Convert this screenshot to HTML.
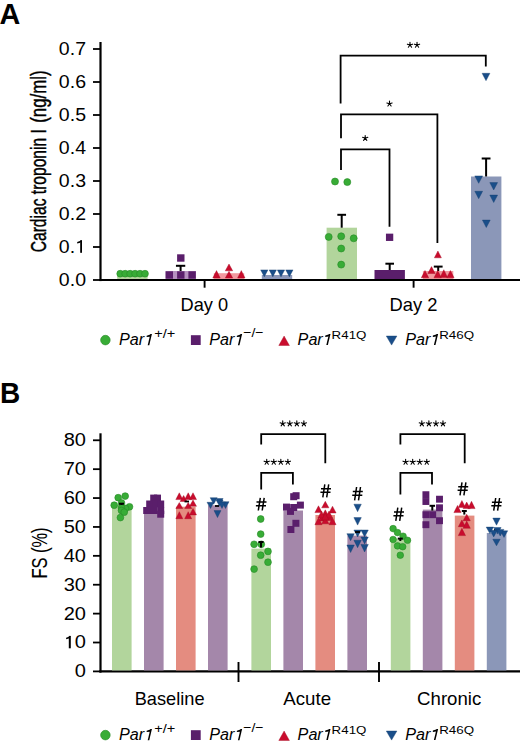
<!DOCTYPE html>
<html><head><meta charset="utf-8"><style>
html,body{margin:0;padding:0;background:#fff;}
svg{display:block;}
text{font-family:"Liberation Sans",sans-serif;}
</style></head><body>
<svg width="520" height="745" viewBox="0 0 520 745">
<rect width="520" height="745" fill="#fff"/>
<text x="-0.52" y="23.50" font-size="29.3" textLength="20.80" lengthAdjust="spacingAndGlyphs" font-weight="bold">A</text>
<line x1="100.5" y1="42" x2="100.5" y2="281.1" stroke="#000" stroke-width="2.2"/>
<line x1="93" y1="280.0" x2="100.5" y2="280.0" stroke="#000" stroke-width="1.8"/>
<text transform="translate(86.0,285.80) scale(1.085,1)" text-anchor="end" font-size="18">0.0</text>
<line x1="93" y1="247.0" x2="100.5" y2="247.0" stroke="#000" stroke-width="1.8"/>
<text transform="translate(58.85,252.80) scale(1.085,1)" font-size="18">0.</text>
<rect x="80.20" y="240.20" width="1.80" height="12.60" fill="#000"/>
<polygon points="82.00,240.20 77.20,242.10 77.20,243.60 80.20,242.80" fill="#000"/>
<line x1="93" y1="214.0" x2="100.5" y2="214.0" stroke="#000" stroke-width="1.8"/>
<text transform="translate(86.0,219.80) scale(1.085,1)" text-anchor="end" font-size="18">0.2</text>
<line x1="93" y1="181.0" x2="100.5" y2="181.0" stroke="#000" stroke-width="1.8"/>
<text transform="translate(86.0,186.80) scale(1.085,1)" text-anchor="end" font-size="18">0.3</text>
<line x1="93" y1="148.0" x2="100.5" y2="148.0" stroke="#000" stroke-width="1.8"/>
<text transform="translate(86.0,153.80) scale(1.085,1)" text-anchor="end" font-size="18">0.4</text>
<line x1="93" y1="115.0" x2="100.5" y2="115.0" stroke="#000" stroke-width="1.8"/>
<text transform="translate(86.0,120.80) scale(1.085,1)" text-anchor="end" font-size="18">0.5</text>
<line x1="93" y1="82.0" x2="100.5" y2="82.0" stroke="#000" stroke-width="1.8"/>
<text transform="translate(86.0,87.80) scale(1.085,1)" text-anchor="end" font-size="18">0.6</text>
<line x1="93" y1="49.0" x2="100.5" y2="49.0" stroke="#000" stroke-width="1.8"/>
<text transform="translate(86.0,54.80) scale(1.085,1)" text-anchor="end" font-size="18">0.7</text>
<line x1="99.4" y1="280" x2="520" y2="280" stroke="#000" stroke-width="2.2"/>
<line x1="204.6" y1="280" x2="204.6" y2="287.7" stroke="#000" stroke-width="1.9"/>
<line x1="413.6" y1="280" x2="413.6" y2="287.7" stroke="#000" stroke-width="1.9"/>
<text x="180.54" y="310.60" font-size="17.8" textLength="47.64" lengthAdjust="spacingAndGlyphs">Day 0</text>
<text x="389.53" y="310.60" font-size="17.8" textLength="47.93" lengthAdjust="spacingAndGlyphs">Day 2</text>
<text transform="translate(46.40,252.28) rotate(-90)" x="0" y="0" font-size="22" textLength="123.14" lengthAdjust="spacingAndGlyphs" stroke="#000" stroke-width="0.45">Cardiac troponin I</text>
<text transform="translate(46.40,122.81) rotate(-90)" x="0" y="0" font-size="22" textLength="52.45" lengthAdjust="spacingAndGlyphs" stroke="#000" stroke-width="0.45">(ng/ml)</text>
<rect x="117.20" y="273.50" width="30.40" height="5.50" fill="#b2d59c"/>
<rect x="165.60" y="271.00" width="30.40" height="8.00" fill="#b690c0"/>
<rect x="213.80" y="273.20" width="30.40" height="5.80" fill="#f2999f"/>
<rect x="261.80" y="275.00" width="30.40" height="4.00" fill="#8b97b8"/>
<circle cx="120.20" cy="273.70" r="3.40" fill="#38ac36" stroke="#268a26" stroke-width="0.6"/>
<circle cx="125.16" cy="273.70" r="3.40" fill="#38ac36" stroke="#268a26" stroke-width="0.6"/>
<circle cx="130.12" cy="273.70" r="3.40" fill="#38ac36" stroke="#268a26" stroke-width="0.6"/>
<circle cx="135.08" cy="273.70" r="3.40" fill="#38ac36" stroke="#268a26" stroke-width="0.6"/>
<circle cx="140.04" cy="273.70" r="3.40" fill="#38ac36" stroke="#268a26" stroke-width="0.6"/>
<circle cx="145.00" cy="273.70" r="3.40" fill="#38ac36" stroke="#268a26" stroke-width="0.6"/>
<line x1="180.6" y1="271" x2="180.6" y2="265.8" stroke="#000" stroke-width="2"/>
<line x1="175.95" y1="265.8" x2="185.25" y2="265.8" stroke="#000" stroke-width="2"/>
<rect x="165.60" y="271.30" width="7.40" height="7.40" fill="#5a1e6b"/>
<rect x="177.10" y="271.30" width="7.40" height="7.40" fill="#5a1e6b"/>
<rect x="188.40" y="271.30" width="7.40" height="7.40" fill="#5a1e6b"/>
<rect x="177.10" y="254.30" width="7.40" height="7.40" fill="#5a1e6b"/>
<polygon points="216.50,270.60 212.80,278.00 220.20,278.00" fill="#c90c2d" stroke="#a30a22" stroke-width="0.4" stroke-linejoin="miter"/>
<polygon points="229.00,264.00 225.30,270.80 232.70,270.80" fill="#c90c2d" stroke="#a30a22" stroke-width="0.4" stroke-linejoin="miter"/>
<polygon points="229.00,271.30 225.30,278.00 232.70,278.00" fill="#c90c2d" stroke="#a30a22" stroke-width="0.4" stroke-linejoin="miter"/>
<polygon points="241.30,270.60 237.60,278.00 245.00,278.00" fill="#c90c2d" stroke="#a30a22" stroke-width="0.4" stroke-linejoin="miter"/>
<polygon points="260.70,269.90 267.90,269.90 264.30,276.80" fill="#1a4e89" stroke="#123d6c" stroke-width="0.4"/>
<polygon points="269.20,269.90 276.40,269.90 272.80,276.80" fill="#1a4e89" stroke="#123d6c" stroke-width="0.4"/>
<polygon points="277.40,269.90 284.60,269.90 281.00,276.80" fill="#1a4e89" stroke="#123d6c" stroke-width="0.4"/>
<polygon points="285.80,269.90 293.00,269.90 289.40,276.80" fill="#1a4e89" stroke="#123d6c" stroke-width="0.4"/>
<rect x="326.60" y="227.70" width="30.40" height="51.30" fill="#b2d59c"/>
<line x1="341.7" y1="227.7" x2="341.7" y2="214.8" stroke="#000" stroke-width="2"/>
<line x1="337.34999999999997" y1="214.8" x2="346.05" y2="214.8" stroke="#000" stroke-width="2"/>
<rect x="374.50" y="270.00" width="30.40" height="9.00" fill="#5a1e6b"/>
<line x1="389.7" y1="270" x2="389.7" y2="263.7" stroke="#000" stroke-width="2"/>
<line x1="385.4" y1="263.7" x2="394.0" y2="263.7" stroke="#000" stroke-width="2"/>
<rect x="422.90" y="271.00" width="30.40" height="8.00" fill="#f2999f"/>
<line x1="438.2" y1="271" x2="438.2" y2="266.6" stroke="#000" stroke-width="2"/>
<line x1="433.8" y1="266.6" x2="442.59999999999997" y2="266.6" stroke="#000" stroke-width="2"/>
<rect x="471.00" y="176.50" width="30.40" height="102.50" fill="#8b97b8"/>
<line x1="486.1" y1="176.5" x2="486.1" y2="158.5" stroke="#000" stroke-width="2"/>
<line x1="481.70000000000005" y1="158.5" x2="490.5" y2="158.5" stroke="#000" stroke-width="2"/>
<circle cx="335.00" cy="181.50" r="3.50" fill="#38ac36" stroke="#268a26" stroke-width="0.6"/>
<circle cx="347.30" cy="182.10" r="3.50" fill="#38ac36" stroke="#268a26" stroke-width="0.6"/>
<circle cx="328.70" cy="236.90" r="3.50" fill="#38ac36" stroke="#268a26" stroke-width="0.6"/>
<circle cx="341.20" cy="236.30" r="3.50" fill="#38ac36" stroke="#268a26" stroke-width="0.6"/>
<circle cx="353.70" cy="238.30" r="3.50" fill="#38ac36" stroke="#268a26" stroke-width="0.6"/>
<circle cx="341.20" cy="248.50" r="3.50" fill="#38ac36" stroke="#268a26" stroke-width="0.6"/>
<circle cx="341.20" cy="264.60" r="3.50" fill="#38ac36" stroke="#268a26" stroke-width="0.6"/>
<rect x="385.95" y="233.65" width="7.30" height="7.30" fill="#5a1e6b"/>
<polygon points="437.90,251.00 434.40,257.80 441.40,257.80" fill="#c90c2d" stroke="#a30a22" stroke-width="0.4" stroke-linejoin="miter"/>
<polygon points="425.00,270.50 421.30,277.80 428.70,277.80" fill="#c90c2d" stroke="#a30a22" stroke-width="0.4" stroke-linejoin="miter"/>
<polygon points="431.50,266.60 427.80,273.50 435.20,273.50" fill="#c90c2d" stroke="#a30a22" stroke-width="0.4" stroke-linejoin="miter"/>
<polygon points="437.70,270.50 434.00,277.80 441.40,277.80" fill="#c90c2d" stroke="#a30a22" stroke-width="0.4" stroke-linejoin="miter"/>
<polygon points="443.80,269.70 440.10,277.40 447.50,277.40" fill="#c90c2d" stroke="#a30a22" stroke-width="0.4" stroke-linejoin="miter"/>
<polygon points="450.40,270.50 446.70,277.80 454.10,277.80" fill="#c90c2d" stroke="#a30a22" stroke-width="0.4" stroke-linejoin="miter"/>
<polygon points="482.10,73.30 489.90,73.30 486.00,80.70" fill="#1a4e89" stroke="#123d6c" stroke-width="0.4"/>
<polygon points="474.80,175.90 482.60,175.90 478.70,183.30" fill="#1a4e89" stroke="#123d6c" stroke-width="0.4"/>
<polygon points="489.80,182.60 497.60,182.60 493.70,190.00" fill="#1a4e89" stroke="#123d6c" stroke-width="0.4"/>
<polygon points="474.80,191.30 482.60,191.30 478.70,198.70" fill="#1a4e89" stroke="#123d6c" stroke-width="0.4"/>
<polygon points="489.80,195.10 497.60,195.10 493.70,202.50" fill="#1a4e89" stroke="#123d6c" stroke-width="0.4"/>
<polygon points="482.40,220.10 490.20,220.10 486.30,227.50" fill="#1a4e89" stroke="#123d6c" stroke-width="0.4"/>
<polyline points="341.00,170.00 341.00,149.40 389.50,149.40 389.50,226.70" fill="none" stroke="#000" stroke-width="1.8" stroke-linecap="butt" stroke-linejoin="miter"/>
<polyline points="341.00,138.20 341.00,114.30 437.40,114.30 437.40,243.00" fill="none" stroke="#000" stroke-width="1.8" stroke-linecap="butt" stroke-linejoin="miter"/>
<polyline points="340.60,103.40 340.60,55.70 485.80,55.70 485.80,66.50" fill="none" stroke="#000" stroke-width="1.8" stroke-linecap="butt" stroke-linejoin="miter"/>
<path d="M365.20,138.20L365.20,135.45M365.20,138.20L367.82,137.35M365.20,138.20L366.82,140.42M365.20,138.20L363.58,140.42M365.20,138.20L362.58,137.35" stroke="#000" stroke-width="1.1" stroke-linecap="round" fill="none"/>
<circle cx="365.20" cy="138.20" r="0.95" fill="#000"/>
<path d="M389.50,103.80L389.50,101.05M389.50,103.80L392.12,102.95M389.50,103.80L391.12,106.02M389.50,103.80L387.88,106.02M389.50,103.80L386.88,102.95" stroke="#000" stroke-width="1.1" stroke-linecap="round" fill="none"/>
<circle cx="389.50" cy="103.80" r="0.95" fill="#000"/>
<path d="M409.98,45.00L409.98,42.25M409.98,45.00L412.59,44.15M409.98,45.00L411.59,47.22M409.98,45.00L408.36,47.22M409.98,45.00L407.36,44.15" stroke="#000" stroke-width="1.1" stroke-linecap="round" fill="none"/>
<circle cx="409.98" cy="45.00" r="0.95" fill="#000"/>
<path d="M417.03,45.00L417.03,42.25M417.03,45.00L419.64,44.15M417.03,45.00L418.64,47.22M417.03,45.00L415.41,47.22M417.03,45.00L414.41,44.15" stroke="#000" stroke-width="1.1" stroke-linecap="round" fill="none"/>
<circle cx="417.03" cy="45.00" r="0.95" fill="#000"/>
<circle cx="105.40" cy="340.10" r="4.80" fill="#38ac36" stroke="#268a26" stroke-width="0.6"/>
<text x="119.02" y="345.00" font-size="17.3" textLength="25.14" lengthAdjust="spacingAndGlyphs" font-style="italic">Par</text>
<polygon points="150.35,334.00 151.90,334.00 149.27,345.20 147.72,345.20" fill="#000"/>
<polygon points="151.60,334.00 146.70,335.70 146.60,337.00 150.05,336.70" fill="#000"/>
<text x="154.17" y="338.30" font-size="13.5" textLength="21.07" lengthAdjust="spacingAndGlyphs">+/+</text>
<rect x="190.90" y="335.20" width="9.80" height="9.80" fill="#5a1e6b"/>
<text x="209.22" y="345.00" font-size="17.3" textLength="25.14" lengthAdjust="spacingAndGlyphs" font-style="italic">Par</text>
<polygon points="240.55,334.00 242.10,334.00 239.47,345.20 237.92,345.20" fill="#000"/>
<polygon points="241.80,334.00 236.90,335.70 236.80,337.00 240.25,336.70" fill="#000"/>
<text x="243.19" y="337.20" font-size="13.5" textLength="20.42" lengthAdjust="spacingAndGlyphs">−/−</text>
<polygon points="284.10,336.00 278.80,345.50 289.40,345.50" fill="#c90c2d" stroke="#a30a22" stroke-width="0.4" stroke-linejoin="miter"/>
<text x="297.62" y="344.90" font-size="17.3" textLength="25.14" lengthAdjust="spacingAndGlyphs" font-style="italic">Par</text>
<polygon points="328.95,333.90 330.50,333.90 327.87,345.10 326.32,345.10" fill="#000"/>
<polygon points="330.20,333.90 325.30,335.60 325.20,336.90 328.65,336.60" fill="#000"/>
<text x="331.63" y="338.60" font-size="11.5" textLength="34.80" lengthAdjust="spacingAndGlyphs">R41Q</text>
<polygon points="386.30,336.00 396.90,336.00 391.60,345.10" fill="#1a4e89" stroke="#123d6c" stroke-width="0.4"/>
<text x="405.22" y="344.90" font-size="17.3" textLength="25.14" lengthAdjust="spacingAndGlyphs" font-style="italic">Par</text>
<polygon points="436.55,333.90 438.10,333.90 435.47,345.10 433.92,345.10" fill="#000"/>
<polygon points="437.80,333.90 432.90,335.60 432.80,336.90 436.25,336.60" fill="#000"/>
<text x="439.23" y="338.60" font-size="11.5" textLength="34.90" lengthAdjust="spacingAndGlyphs">R46Q</text>
<text x="-0.02" y="402.80" font-size="29.3" textLength="20.24" lengthAdjust="spacingAndGlyphs" font-weight="bold">B</text>
<line x1="100.5" y1="433.3" x2="100.5" y2="672.6" stroke="#000" stroke-width="2.2"/>
<line x1="93" y1="671.4" x2="100.5" y2="671.4" stroke="#000" stroke-width="1.8"/>
<text transform="translate(86.0,677.30) scale(1.1,1)" text-anchor="end" font-size="18.2">0</text>
<line x1="93" y1="642.51" x2="100.5" y2="642.51" stroke="#000" stroke-width="1.8"/>
<text transform="translate(86.0,648.41) scale(1.1,1)" text-anchor="end" font-size="18.2">0</text>
<rect x="68.80" y="635.91" width="2.00" height="12.40" fill="#000"/>
<polygon points="70.80,635.91 66.10,637.81 66.10,639.31 68.80,638.51" fill="#000"/>
<line x1="93" y1="613.62" x2="100.5" y2="613.62" stroke="#000" stroke-width="1.8"/>
<text transform="translate(86.0,619.52) scale(1.1,1)" text-anchor="end" font-size="18.2">20</text>
<line x1="93" y1="584.73" x2="100.5" y2="584.73" stroke="#000" stroke-width="1.8"/>
<text transform="translate(86.0,590.63) scale(1.1,1)" text-anchor="end" font-size="18.2">30</text>
<line x1="93" y1="555.84" x2="100.5" y2="555.84" stroke="#000" stroke-width="1.8"/>
<text transform="translate(86.0,561.74) scale(1.1,1)" text-anchor="end" font-size="18.2">40</text>
<line x1="93" y1="526.95" x2="100.5" y2="526.95" stroke="#000" stroke-width="1.8"/>
<text transform="translate(86.0,532.85) scale(1.1,1)" text-anchor="end" font-size="18.2">50</text>
<line x1="93" y1="498.06" x2="100.5" y2="498.06" stroke="#000" stroke-width="1.8"/>
<text transform="translate(86.0,503.96) scale(1.1,1)" text-anchor="end" font-size="18.2">60</text>
<line x1="93" y1="469.16999999999996" x2="100.5" y2="469.16999999999996" stroke="#000" stroke-width="1.8"/>
<text transform="translate(86.0,475.07) scale(1.1,1)" text-anchor="end" font-size="18.2">70</text>
<line x1="93" y1="440.28" x2="100.5" y2="440.28" stroke="#000" stroke-width="1.8"/>
<text transform="translate(86.0,446.18) scale(1.1,1)" text-anchor="end" font-size="18.2">80</text>
<line x1="99.4" y1="671.4" x2="520" y2="671.4" stroke="#000" stroke-width="2.2"/>
<line x1="238.5" y1="662" x2="238.5" y2="682" stroke="#000" stroke-width="1.9"/>
<line x1="379" y1="662" x2="379" y2="682" stroke="#000" stroke-width="1.9"/>
<text x="134.74" y="705.20" font-size="17.8" textLength="69.79" lengthAdjust="spacingAndGlyphs">Baseline</text>
<text x="283.30" y="705.40" font-size="17.8" textLength="47.78" lengthAdjust="spacingAndGlyphs">Acute</text>
<text x="417.07" y="705.30" font-size="17.8" textLength="64.22" lengthAdjust="spacingAndGlyphs">Chronic</text>
<text transform="translate(46.70,578.62) rotate(-90)" x="0" y="0" font-size="22" textLength="51.22" lengthAdjust="spacingAndGlyphs" stroke="#000" stroke-width="0.12">FS (%)</text>
<rect x="112.00" y="505.00" width="19.60" height="165.40" fill="#b2d59c"/>
<rect x="144.00" y="508.00" width="19.60" height="162.40" fill="#a487aa"/>
<rect x="176.00" y="506.70" width="19.60" height="163.70" fill="#e48c80"/>
<rect x="208.00" y="505.30" width="19.60" height="165.10" fill="#a487aa"/>
<rect x="251.40" y="548.60" width="19.60" height="121.80" fill="#b2d59c"/>
<rect x="283.40" y="510.50" width="19.60" height="159.90" fill="#a487aa"/>
<rect x="315.40" y="515.00" width="19.60" height="155.40" fill="#e48c80"/>
<rect x="347.40" y="535.60" width="19.60" height="134.80" fill="#a487aa"/>
<rect x="390.80" y="538.50" width="19.60" height="131.90" fill="#b2d59c"/>
<rect x="422.80" y="509.60" width="19.60" height="160.80" fill="#a487aa"/>
<rect x="454.80" y="515.60" width="19.60" height="154.80" fill="#e48c80"/>
<rect x="486.80" y="533.00" width="19.60" height="137.40" fill="#8b97b8"/>
<circle cx="125.20" cy="496.10" r="3.40" fill="#38ac36" stroke="#268a26" stroke-width="0.6"/>
<circle cx="118.20" cy="497.70" r="3.40" fill="#38ac36" stroke="#268a26" stroke-width="0.6"/>
<circle cx="121.50" cy="503.00" r="3.40" fill="#38ac36" stroke="#268a26" stroke-width="0.6"/>
<circle cx="114.20" cy="505.20" r="3.40" fill="#38ac36" stroke="#268a26" stroke-width="0.6"/>
<circle cx="129.50" cy="506.80" r="3.40" fill="#38ac36" stroke="#268a26" stroke-width="0.6"/>
<circle cx="125.50" cy="508.50" r="3.40" fill="#38ac36" stroke="#268a26" stroke-width="0.6"/>
<circle cx="121.50" cy="508.00" r="3.40" fill="#38ac36" stroke="#268a26" stroke-width="0.6"/>
<circle cx="121.50" cy="510.50" r="3.40" fill="#38ac36" stroke="#268a26" stroke-width="0.6"/>
<circle cx="124.20" cy="512.20" r="3.40" fill="#38ac36" stroke="#268a26" stroke-width="0.6"/>
<circle cx="120.40" cy="517.60" r="3.40" fill="#38ac36" stroke="#268a26" stroke-width="0.6"/>
<line x1="121.5" y1="505" x2="121.5" y2="503.7" stroke="#000" stroke-width="2"/>
<line x1="119.0" y1="503.7" x2="124.0" y2="503.7" stroke="#000" stroke-width="2"/>
<rect x="150.20" y="494.60" width="7.00" height="7.00" fill="#5a1e6b"/>
<rect x="154.00" y="494.60" width="7.00" height="7.00" fill="#5a1e6b"/>
<rect x="146.20" y="500.50" width="7.00" height="7.00" fill="#5a1e6b"/>
<rect x="152.50" y="500.50" width="7.00" height="7.00" fill="#5a1e6b"/>
<rect x="157.20" y="500.50" width="7.00" height="7.00" fill="#5a1e6b"/>
<rect x="143.20" y="507.00" width="7.00" height="7.00" fill="#5a1e6b"/>
<rect x="150.00" y="507.00" width="7.00" height="7.00" fill="#5a1e6b"/>
<rect x="157.20" y="507.00" width="7.00" height="7.00" fill="#5a1e6b"/>
<rect x="157.20" y="510.70" width="7.00" height="7.00" fill="#5a1e6b"/>
<polygon points="179.30,492.80 175.80,499.60 182.80,499.60" fill="#c90c2d" stroke="#a30a22" stroke-width="0.4" stroke-linejoin="miter"/>
<polygon points="183.60,495.50 180.10,501.50 187.10,501.50" fill="#c90c2d" stroke="#a30a22" stroke-width="0.4" stroke-linejoin="miter"/>
<polygon points="188.20,492.80 184.70,499.60 191.70,499.60" fill="#c90c2d" stroke="#a30a22" stroke-width="0.4" stroke-linejoin="miter"/>
<polygon points="193.00,492.80 189.50,499.60 196.50,499.60" fill="#c90c2d" stroke="#a30a22" stroke-width="0.4" stroke-linejoin="miter"/>
<polygon points="179.30,502.50 175.80,508.50 182.80,508.50" fill="#c90c2d" stroke="#a30a22" stroke-width="0.4" stroke-linejoin="miter"/>
<polygon points="188.20,502.50 184.70,508.50 191.70,508.50" fill="#c90c2d" stroke="#a30a22" stroke-width="0.4" stroke-linejoin="miter"/>
<polygon points="193.00,500.10 189.50,506.30 196.50,506.30" fill="#c90c2d" stroke="#a30a22" stroke-width="0.4" stroke-linejoin="miter"/>
<polygon points="179.30,511.70 175.80,518.70 182.80,518.70" fill="#c90c2d" stroke="#a30a22" stroke-width="0.4" stroke-linejoin="miter"/>
<polygon points="188.20,511.70 184.70,518.70 191.70,518.70" fill="#c90c2d" stroke="#a30a22" stroke-width="0.4" stroke-linejoin="miter"/>
<polygon points="193.00,508.50 189.50,514.90 196.50,514.90" fill="#c90c2d" stroke="#a30a22" stroke-width="0.4" stroke-linejoin="miter"/>
<line x1="184.5" y1="501.5" x2="189" y2="501.5" stroke="#000" stroke-width="1.8"/>
<polygon points="210.20,497.70 217.20,497.70 213.70,504.20" fill="#1a4e89" stroke="#123d6c" stroke-width="0.4"/>
<polygon points="216.10,498.50 223.10,498.50 219.60,505.00" fill="#1a4e89" stroke="#123d6c" stroke-width="0.4"/>
<polygon points="207.00,502.30 214.00,502.30 210.50,508.50" fill="#1a4e89" stroke="#123d6c" stroke-width="0.4"/>
<polygon points="216.10,500.10 223.10,500.10 219.60,506.30" fill="#1a4e89" stroke="#123d6c" stroke-width="0.4"/>
<polygon points="222.00,501.70 229.00,501.70 225.50,508.50" fill="#1a4e89" stroke="#123d6c" stroke-width="0.4"/>
<polygon points="214.00,510.60 221.00,510.60 217.50,517.60" fill="#1a4e89" stroke="#123d6c" stroke-width="0.4"/>
<polygon points="218.50,502.00 225.50,502.00 222.00,508.50" fill="#1a4e89" stroke="#123d6c" stroke-width="0.4"/>
<line x1="215" y1="506" x2="219" y2="506" stroke="#000" stroke-width="1.8"/>
<circle cx="260.70" cy="519.00" r="3.40" fill="#38ac36" stroke="#268a26" stroke-width="0.6"/>
<circle cx="260.70" cy="534.10" r="3.40" fill="#38ac36" stroke="#268a26" stroke-width="0.6"/>
<circle cx="254.10" cy="544.30" r="3.40" fill="#38ac36" stroke="#268a26" stroke-width="0.6"/>
<circle cx="261.30" cy="544.30" r="3.40" fill="#38ac36" stroke="#268a26" stroke-width="0.6"/>
<circle cx="268.00" cy="551.40" r="3.40" fill="#38ac36" stroke="#268a26" stroke-width="0.6"/>
<circle cx="260.70" cy="555.20" r="3.40" fill="#38ac36" stroke="#268a26" stroke-width="0.6"/>
<circle cx="268.00" cy="562.20" r="3.40" fill="#38ac36" stroke="#268a26" stroke-width="0.6"/>
<circle cx="254.10" cy="569.10" r="3.40" fill="#38ac36" stroke="#268a26" stroke-width="0.6"/>
<line x1="261" y1="547.4" x2="261" y2="542" stroke="#000" stroke-width="2"/>
<line x1="258.5" y1="542" x2="263.5" y2="542" stroke="#000" stroke-width="2"/>
<rect x="290.20" y="493.20" width="7.00" height="7.00" fill="#5a1e6b"/>
<rect x="292.60" y="492.20" width="7.00" height="7.00" fill="#5a1e6b"/>
<rect x="283.00" y="503.60" width="7.00" height="7.00" fill="#5a1e6b"/>
<rect x="290.20" y="504.00" width="7.00" height="7.00" fill="#5a1e6b"/>
<rect x="296.90" y="501.60" width="7.00" height="7.00" fill="#5a1e6b"/>
<rect x="287.00" y="507.90" width="7.00" height="7.00" fill="#5a1e6b"/>
<rect x="292.40" y="519.80" width="7.00" height="7.00" fill="#5a1e6b"/>
<rect x="287.40" y="526.00" width="7.00" height="7.00" fill="#5a1e6b"/>
<polygon points="325.30,501.30 321.70,507.80 328.90,507.80" fill="#c90c2d" stroke="#a30a22" stroke-width="0.4" stroke-linejoin="miter"/>
<polygon points="318.50,505.80 314.90,512.60 322.10,512.60" fill="#c90c2d" stroke="#a30a22" stroke-width="0.4" stroke-linejoin="miter"/>
<polygon points="332.50,506.20 328.90,513.00 336.10,513.00" fill="#c90c2d" stroke="#a30a22" stroke-width="0.4" stroke-linejoin="miter"/>
<polygon points="325.30,509.80 321.70,516.50 328.90,516.50" fill="#c90c2d" stroke="#a30a22" stroke-width="0.4" stroke-linejoin="miter"/>
<polygon points="322.10,514.60 318.50,521.00 325.70,521.00" fill="#c90c2d" stroke="#a30a22" stroke-width="0.4" stroke-linejoin="miter"/>
<polygon points="329.30,513.80 325.70,520.50 332.90,520.50" fill="#c90c2d" stroke="#a30a22" stroke-width="0.4" stroke-linejoin="miter"/>
<polygon points="318.50,517.80 314.90,524.70 322.10,524.70" fill="#c90c2d" stroke="#a30a22" stroke-width="0.4" stroke-linejoin="miter"/>
<polygon points="332.50,517.80 328.90,524.70 336.10,524.70" fill="#c90c2d" stroke="#a30a22" stroke-width="0.4" stroke-linejoin="miter"/>
<polygon points="325.30,517.00 321.70,523.80 328.90,523.80" fill="#c90c2d" stroke="#a30a22" stroke-width="0.4" stroke-linejoin="miter"/>
<polygon points="321.50,511.00 317.90,518.00 325.10,518.00" fill="#c90c2d" stroke="#a30a22" stroke-width="0.4" stroke-linejoin="miter"/>
<polygon points="329.00,511.00 325.40,518.00 332.60,518.00" fill="#c90c2d" stroke="#a30a22" stroke-width="0.4" stroke-linejoin="miter"/>
<polygon points="325.30,513.00 321.70,520.00 328.90,520.00" fill="#c90c2d" stroke="#a30a22" stroke-width="0.4" stroke-linejoin="miter"/>
<polygon points="353.90,504.20 361.30,504.20 357.60,511.70" fill="#1a4e89" stroke="#123d6c" stroke-width="0.4"/>
<polygon points="353.90,517.60 361.30,517.60 357.60,525.10" fill="#1a4e89" stroke="#123d6c" stroke-width="0.4"/>
<polygon points="353.90,530.00 361.30,530.00 357.60,537.00" fill="#1a4e89" stroke="#123d6c" stroke-width="0.4"/>
<polygon points="360.90,530.00 368.30,530.00 364.60,537.00" fill="#1a4e89" stroke="#123d6c" stroke-width="0.4"/>
<polygon points="346.90,533.70 354.30,533.70 350.60,540.70" fill="#1a4e89" stroke="#123d6c" stroke-width="0.4"/>
<polygon points="360.90,537.00 368.30,537.00 364.60,543.90" fill="#1a4e89" stroke="#123d6c" stroke-width="0.4"/>
<polygon points="353.90,540.20 361.30,540.20 357.60,547.70" fill="#1a4e89" stroke="#123d6c" stroke-width="0.4"/>
<polygon points="346.90,545.00 354.30,545.00 350.60,552.50" fill="#1a4e89" stroke="#123d6c" stroke-width="0.4"/>
<polygon points="360.90,544.40 368.30,544.40 364.60,552.00" fill="#1a4e89" stroke="#123d6c" stroke-width="0.4"/>
<line x1="355" y1="532" x2="360" y2="532" stroke="#000" stroke-width="1.8"/>
<circle cx="393.10" cy="528.60" r="3.30" fill="#38ac36" stroke="#268a26" stroke-width="0.6"/>
<circle cx="397.50" cy="532.60" r="3.30" fill="#38ac36" stroke="#268a26" stroke-width="0.6"/>
<circle cx="403.10" cy="536.20" r="3.30" fill="#38ac36" stroke="#268a26" stroke-width="0.6"/>
<circle cx="393.10" cy="539.50" r="3.30" fill="#38ac36" stroke="#268a26" stroke-width="0.6"/>
<circle cx="407.50" cy="540.30" r="3.30" fill="#38ac36" stroke="#268a26" stroke-width="0.6"/>
<circle cx="397.50" cy="545.90" r="3.30" fill="#38ac36" stroke="#268a26" stroke-width="0.6"/>
<circle cx="402.70" cy="546.70" r="3.30" fill="#38ac36" stroke="#268a26" stroke-width="0.6"/>
<circle cx="400.30" cy="555.20" r="3.30" fill="#38ac36" stroke="#268a26" stroke-width="0.6"/>
<line x1="400.3" y1="541" x2="400.3" y2="538.6" stroke="#000" stroke-width="2"/>
<line x1="397.8" y1="538.6" x2="402.8" y2="538.6" stroke="#000" stroke-width="2"/>
<rect x="422.45" y="491.25" width="6.90" height="6.90" fill="#5a1e6b"/>
<rect x="422.45" y="498.05" width="6.90" height="6.90" fill="#5a1e6b"/>
<rect x="436.05" y="495.75" width="6.90" height="6.90" fill="#5a1e6b"/>
<rect x="436.05" y="504.35" width="6.90" height="6.90" fill="#5a1e6b"/>
<rect x="422.45" y="511.25" width="6.90" height="6.90" fill="#5a1e6b"/>
<rect x="429.25" y="511.25" width="6.90" height="6.90" fill="#5a1e6b"/>
<rect x="436.05" y="517.25" width="6.90" height="6.90" fill="#5a1e6b"/>
<rect x="422.45" y="521.25" width="6.90" height="6.90" fill="#5a1e6b"/>
<line x1="432.3" y1="510.6" x2="432.3" y2="505.8" stroke="#000" stroke-width="2"/>
<line x1="429.55" y1="505.8" x2="435.05" y2="505.8" stroke="#000" stroke-width="2"/>
<polygon points="461.90,500.50 458.30,507.40 465.50,507.40" fill="#c90c2d" stroke="#a30a22" stroke-width="0.4" stroke-linejoin="miter"/>
<polygon points="466.70,502.10 463.10,508.60 470.30,508.60" fill="#c90c2d" stroke="#a30a22" stroke-width="0.4" stroke-linejoin="miter"/>
<polygon points="471.50,501.30 467.90,508.60 475.10,508.60" fill="#c90c2d" stroke="#a30a22" stroke-width="0.4" stroke-linejoin="miter"/>
<polygon points="457.50,505.40 453.90,512.60 461.10,512.60" fill="#c90c2d" stroke="#a30a22" stroke-width="0.4" stroke-linejoin="miter"/>
<polygon points="466.70,514.20 463.10,520.70 470.30,520.70" fill="#c90c2d" stroke="#a30a22" stroke-width="0.4" stroke-linejoin="miter"/>
<polygon points="461.90,519.90 458.30,526.70 465.50,526.70" fill="#c90c2d" stroke="#a30a22" stroke-width="0.4" stroke-linejoin="miter"/>
<polygon points="466.70,521.10 463.10,528.30 470.30,528.30" fill="#c90c2d" stroke="#a30a22" stroke-width="0.4" stroke-linejoin="miter"/>
<polygon points="461.90,528.30 458.30,535.60 465.50,535.60" fill="#c90c2d" stroke="#a30a22" stroke-width="0.4" stroke-linejoin="miter"/>
<line x1="464.3" y1="514.6" x2="464.3" y2="511" stroke="#000" stroke-width="2"/>
<line x1="461.8" y1="511" x2="466.8" y2="511" stroke="#000" stroke-width="2"/>
<line x1="494" y1="530" x2="499" y2="530" stroke="#000" stroke-width="1.8"/>
<polygon points="492.80,518.10 500.20,518.10 496.50,525.20" fill="#1a4e89" stroke="#123d6c" stroke-width="0.4"/>
<polygon points="486.20,527.10 493.60,527.10 489.90,533.60" fill="#1a4e89" stroke="#123d6c" stroke-width="0.4"/>
<polygon points="493.70,527.50 501.10,527.50 497.40,534.10" fill="#1a4e89" stroke="#123d6c" stroke-width="0.4"/>
<polygon points="500.30,530.80 507.70,530.80 504.00,537.40" fill="#1a4e89" stroke="#123d6c" stroke-width="0.4"/>
<polygon points="490.00,530.30 497.40,530.30 493.70,536.90" fill="#1a4e89" stroke="#123d6c" stroke-width="0.4"/>
<polygon points="492.80,539.20 500.20,539.20 496.50,545.80" fill="#1a4e89" stroke="#123d6c" stroke-width="0.4"/>
<polygon points="496.50,529.40 503.90,529.40 500.20,536.00" fill="#1a4e89" stroke="#123d6c" stroke-width="0.4"/>
<polyline points="261.20,444.60 261.20,434.20 325.30,434.20 325.30,463.30" fill="none" stroke="#000" stroke-width="1.8" stroke-linecap="butt" stroke-linejoin="miter"/>
<polyline points="261.20,489.60 261.20,472.80 292.90,472.80 292.90,484.40" fill="none" stroke="#000" stroke-width="1.8" stroke-linecap="butt" stroke-linejoin="miter"/>
<polyline points="400.40,444.60 400.40,434.20 464.70,434.20 464.70,463.30" fill="none" stroke="#000" stroke-width="1.8" stroke-linecap="butt" stroke-linejoin="miter"/>
<polyline points="400.40,494.40 400.40,472.80 432.00,472.80 432.00,484.40" fill="none" stroke="#000" stroke-width="1.8" stroke-linecap="butt" stroke-linejoin="miter"/>
<path d="M282.73,423.65L282.73,420.90M282.73,423.65L285.34,422.80M282.73,423.65L284.34,425.87M282.73,423.65L281.11,425.87M282.73,423.65L280.11,422.80" stroke="#000" stroke-width="1.1" stroke-linecap="round" fill="none"/>
<circle cx="282.73" cy="423.65" r="0.95" fill="#000"/>
<path d="M289.78,423.65L289.78,420.90M289.78,423.65L292.39,422.80M289.78,423.65L291.39,425.87M289.78,423.65L288.16,425.87M289.78,423.65L287.16,422.80" stroke="#000" stroke-width="1.1" stroke-linecap="round" fill="none"/>
<circle cx="289.78" cy="423.65" r="0.95" fill="#000"/>
<path d="M296.83,423.65L296.83,420.90M296.83,423.65L299.44,422.80M296.83,423.65L298.44,425.87M296.83,423.65L295.21,425.87M296.83,423.65L294.21,422.80" stroke="#000" stroke-width="1.1" stroke-linecap="round" fill="none"/>
<circle cx="296.83" cy="423.65" r="0.95" fill="#000"/>
<path d="M303.88,423.65L303.88,420.90M303.88,423.65L306.49,422.80M303.88,423.65L305.49,425.87M303.88,423.65L302.26,425.87M303.88,423.65L301.26,422.80" stroke="#000" stroke-width="1.1" stroke-linecap="round" fill="none"/>
<circle cx="303.88" cy="423.65" r="0.95" fill="#000"/>
<path d="M266.73,462.00L266.73,459.25M266.73,462.00L269.34,461.15M266.73,462.00L268.34,464.22M266.73,462.00L265.11,464.22M266.73,462.00L264.11,461.15" stroke="#000" stroke-width="1.1" stroke-linecap="round" fill="none"/>
<circle cx="266.73" cy="462.00" r="0.95" fill="#000"/>
<path d="M273.78,462.00L273.78,459.25M273.78,462.00L276.39,461.15M273.78,462.00L275.39,464.22M273.78,462.00L272.16,464.22M273.78,462.00L271.16,461.15" stroke="#000" stroke-width="1.1" stroke-linecap="round" fill="none"/>
<circle cx="273.78" cy="462.00" r="0.95" fill="#000"/>
<path d="M280.83,462.00L280.83,459.25M280.83,462.00L283.44,461.15M280.83,462.00L282.44,464.22M280.83,462.00L279.21,464.22M280.83,462.00L278.21,461.15" stroke="#000" stroke-width="1.1" stroke-linecap="round" fill="none"/>
<circle cx="280.83" cy="462.00" r="0.95" fill="#000"/>
<path d="M287.88,462.00L287.88,459.25M287.88,462.00L290.49,461.15M287.88,462.00L289.49,464.22M287.88,462.00L286.26,464.22M287.88,462.00L285.26,461.15" stroke="#000" stroke-width="1.1" stroke-linecap="round" fill="none"/>
<circle cx="287.88" cy="462.00" r="0.95" fill="#000"/>
<path d="M421.82,423.65L421.82,420.90M421.82,423.65L424.44,422.80M421.82,423.65L423.44,425.87M421.82,423.65L420.21,425.87M421.82,423.65L419.21,422.80" stroke="#000" stroke-width="1.1" stroke-linecap="round" fill="none"/>
<circle cx="421.82" cy="423.65" r="0.95" fill="#000"/>
<path d="M428.88,423.65L428.88,420.90M428.88,423.65L431.49,422.80M428.88,423.65L430.49,425.87M428.88,423.65L427.26,425.87M428.88,423.65L426.26,422.80" stroke="#000" stroke-width="1.1" stroke-linecap="round" fill="none"/>
<circle cx="428.88" cy="423.65" r="0.95" fill="#000"/>
<path d="M435.93,423.65L435.93,420.90M435.93,423.65L438.54,422.80M435.93,423.65L437.54,425.87M435.93,423.65L434.31,425.87M435.93,423.65L433.31,422.80" stroke="#000" stroke-width="1.1" stroke-linecap="round" fill="none"/>
<circle cx="435.93" cy="423.65" r="0.95" fill="#000"/>
<path d="M442.97,423.65L442.97,420.90M442.97,423.65L445.59,422.80M442.97,423.65L444.59,425.87M442.97,423.65L441.36,425.87M442.97,423.65L440.36,422.80" stroke="#000" stroke-width="1.1" stroke-linecap="round" fill="none"/>
<circle cx="442.97" cy="423.65" r="0.95" fill="#000"/>
<path d="M405.62,462.00L405.62,459.25M405.62,462.00L408.24,461.15M405.62,462.00L407.24,464.22M405.62,462.00L404.01,464.22M405.62,462.00L403.01,461.15" stroke="#000" stroke-width="1.1" stroke-linecap="round" fill="none"/>
<circle cx="405.62" cy="462.00" r="0.95" fill="#000"/>
<path d="M412.68,462.00L412.68,459.25M412.68,462.00L415.29,461.15M412.68,462.00L414.29,464.22M412.68,462.00L411.06,464.22M412.68,462.00L410.06,461.15" stroke="#000" stroke-width="1.1" stroke-linecap="round" fill="none"/>
<circle cx="412.68" cy="462.00" r="0.95" fill="#000"/>
<path d="M419.73,462.00L419.73,459.25M419.73,462.00L422.34,461.15M419.73,462.00L421.34,464.22M419.73,462.00L418.11,464.22M419.73,462.00L417.11,461.15" stroke="#000" stroke-width="1.1" stroke-linecap="round" fill="none"/>
<circle cx="419.73" cy="462.00" r="0.95" fill="#000"/>
<path d="M426.77,462.00L426.77,459.25M426.77,462.00L429.39,461.15M426.77,462.00L428.39,464.22M426.77,462.00L425.16,464.22M426.77,462.00L424.16,461.15" stroke="#000" stroke-width="1.1" stroke-linecap="round" fill="none"/>
<circle cx="426.77" cy="462.00" r="0.95" fill="#000"/>
<path d="M260.30,497.90L258.30,510.50M264.20,497.90L262.20,510.50M256.50,502.10L266.50,502.10M255.90,505.64L266.00,505.64" stroke="#000" stroke-width="1.5" fill="none"/>
<path d="M324.80,484.40L322.80,497.30M328.70,484.40L326.70,497.30M321.00,488.70L331.00,488.70M320.40,492.32L330.50,492.32" stroke="#000" stroke-width="1.5" fill="none"/>
<path d="M356.60,487.00L354.60,500.40M360.50,487.00L358.50,500.40M352.80,491.46L362.80,491.46M352.20,495.23L362.30,495.23" stroke="#000" stroke-width="1.5" fill="none"/>
<path d="M397.80,507.60L395.80,520.90M401.70,507.60L399.70,520.90M394.00,512.03L404.00,512.03M393.40,515.77L403.50,515.77" stroke="#000" stroke-width="1.5" fill="none"/>
<path d="M462.00,482.40L460.00,495.30M465.90,482.40L463.90,495.30M458.20,486.70L468.20,486.70M457.60,490.32L467.70,490.32" stroke="#000" stroke-width="1.5" fill="none"/>
<path d="M495.70,498.00L493.70,510.60M499.60,498.00L497.60,510.60M491.90,502.20L501.90,502.20M491.30,505.74L501.40,505.74" stroke="#000" stroke-width="1.5" fill="none"/>
<circle cx="105.40" cy="735.10" r="4.80" fill="#38ac36" stroke="#268a26" stroke-width="0.6"/>
<text x="119.02" y="740.00" font-size="17.3" textLength="25.14" lengthAdjust="spacingAndGlyphs" font-style="italic">Par</text>
<polygon points="150.35,729.00 151.90,729.00 149.27,740.20 147.72,740.20" fill="#000"/>
<polygon points="151.60,729.00 146.70,730.70 146.60,732.00 150.05,731.70" fill="#000"/>
<text x="154.17" y="733.30" font-size="13.5" textLength="21.07" lengthAdjust="spacingAndGlyphs">+/+</text>
<rect x="190.90" y="730.20" width="9.80" height="9.80" fill="#5a1e6b"/>
<text x="209.22" y="740.00" font-size="17.3" textLength="25.14" lengthAdjust="spacingAndGlyphs" font-style="italic">Par</text>
<polygon points="240.55,729.00 242.10,729.00 239.47,740.20 237.92,740.20" fill="#000"/>
<polygon points="241.80,729.00 236.90,730.70 236.80,732.00 240.25,731.70" fill="#000"/>
<text x="243.19" y="732.20" font-size="13.5" textLength="20.42" lengthAdjust="spacingAndGlyphs">−/−</text>
<polygon points="284.10,731.00 278.80,740.50 289.40,740.50" fill="#c90c2d" stroke="#a30a22" stroke-width="0.4" stroke-linejoin="miter"/>
<text x="297.62" y="739.90" font-size="17.3" textLength="25.14" lengthAdjust="spacingAndGlyphs" font-style="italic">Par</text>
<polygon points="328.95,728.90 330.50,728.90 327.87,740.10 326.32,740.10" fill="#000"/>
<polygon points="330.20,728.90 325.30,730.60 325.20,731.90 328.65,731.60" fill="#000"/>
<text x="331.63" y="733.60" font-size="11.5" textLength="34.80" lengthAdjust="spacingAndGlyphs">R41Q</text>
<polygon points="386.30,731.00 396.90,731.00 391.60,740.10" fill="#1a4e89" stroke="#123d6c" stroke-width="0.4"/>
<text x="405.22" y="739.90" font-size="17.3" textLength="25.14" lengthAdjust="spacingAndGlyphs" font-style="italic">Par</text>
<polygon points="436.55,728.90 438.10,728.90 435.47,740.10 433.92,740.10" fill="#000"/>
<polygon points="437.80,728.90 432.90,730.60 432.80,731.90 436.25,731.60" fill="#000"/>
<text x="439.23" y="733.60" font-size="11.5" textLength="34.90" lengthAdjust="spacingAndGlyphs">R46Q</text>
</svg>
</body></html>
